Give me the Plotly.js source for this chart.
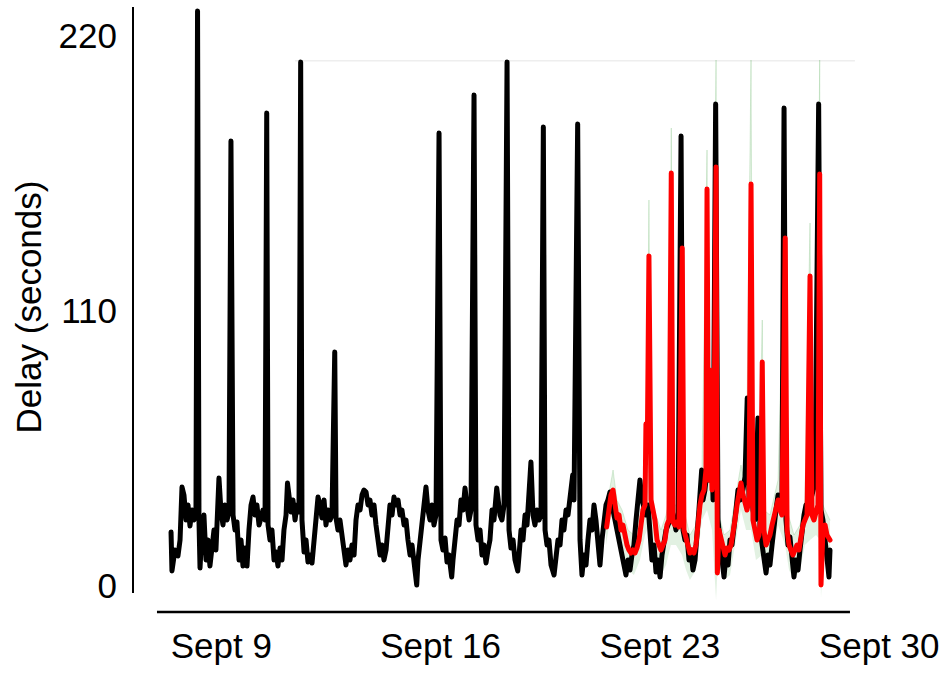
<!DOCTYPE html>
<html>
<head>
<meta charset="utf-8">
<script src="https://cdn.plot.ly/plotly-3.0.1.min.js"></script>
<style>
html,body{margin:0;padding:0;background:#fff;}
#chart{width:944px;height:673px;}
#chart .scatterlayer path.js-line{stroke-linejoin:round !important;stroke-linecap:round !important;}
</style>
</head>
<body>
<div id="chart"></div>
<script>
// Hours since Sept 7 00:00 and delay in seconds
const actualDelay = [[9.5,21.6],[10.2,6.0],[12.5,14.4],[14.8,12.0],[16.4,18.4],[17.9,39.6],[19.4,36.4],[21.0,26.4],[22.5,32.4],[24.0,24.0],[25.6,30.4],[27.1,26.4],[28.6,28.8],[29.8,230],[30.9,26.4],[31.7,7.2],[33.2,22.4],[34.7,28.4],[36.3,10.4],[37.8,18.4],[39.3,8.0],[40.9,16.4],[42.4,22.4],[43.9,14.4],[45.5,34.4],[46.2,43.2],[47.8,29.6],[49.3,24.4],[50.8,32.4],[52.4,26.4],[53.9,29.6],[55.4,178],[57.0,28.4],[58.5,22.4],[60.0,25.6],[61.6,10.4],[63.1,18.4],[64.6,8.0],[66.2,15.2],[67.7,8.0],[69.2,22.4],[70.8,32.4],[72.3,35.6],[73.8,28.4],[75.3,32.4],[76.9,24.4],[78.4,27.2],[79.9,30.4],[81.5,26.4],[82.8,189.2],[83.8,24.4],[85.3,18.4],[86.8,22.4],[88.4,10.4],[89.9,13.6],[91.4,8.0],[93.0,15.2],[94.5,10.4],[96.0,22.4],[97.6,28.4],[98.7,41.2],[99.9,34.4],[101.4,29.6],[102.9,34.4],[104.5,26.4],[106.0,32.4],[107.5,29.6],[108.8,209.6],[109.8,26.4],[111.4,13.6],[112.9,18.4],[114.4,9.6],[115.9,12.4],[117.5,9.2],[119.0,18.4],[120.5,26.4],[122.1,35.6],[123.6,32.4],[125.1,27.2],[126.7,34.4],[128.2,24.4],[129.7,30.4],[131.3,26.4],[132.8,28.4],[134.9,93.6],[135.9,27.2],[137.4,22.4],[138.9,26.4],[140.5,20.4],[142.0,16.4],[143.5,8.4],[145.1,14.4],[146.6,10.4],[148.1,16.4],[149.7,12.4],[151.2,26.4],[152.7,32.4],[154.3,30.4],[155.8,36.4],[157.3,38.4],[158.9,37.6],[160.4,32.4],[161.9,34.4],[163.4,28.4],[165.0,32.4],[166.5,24.4],[168.0,18.4],[169.6,12.4],[171.1,16.4],[172.6,10.4],[174.2,14.4],[175.7,22.4],[177.2,32.4],[178.8,28.4],[180.3,35.6],[181.8,32.4],[183.4,34.4],[184.9,28.4],[186.4,30.4],[188.0,24.4],[189.5,26.4],[191.0,18.4],[192.6,12.4],[194.1,16.4],[195.6,10.4],[197.7,0.4],[198.7,10.4],[200.2,18.4],[201.7,24.4],[203.3,30.4],[204.8,39.6],[206.3,30.4],[207.9,26.4],[209.4,32.4],[210.9,24.4],[212.5,28.4],[214.8,181.2],[216.3,18.4],[217.8,14.4],[219.4,19.2],[220.9,9.6],[222.4,12.4],[224.5,3.6],[225.5,10.4],[227.0,16.4],[228.6,26.4],[230.1,24.4],[231.6,34.4],[233.2,30.4],[234.7,39.2],[236.2,32.4],[237.8,26.4],[239.3,30.4],[241.6,196.4],[243.1,24.4],[244.7,18.4],[246.2,22.4],[247.7,12.4],[249.2,16.4],[250.8,9.2],[252.3,14.4],[253.8,18.4],[255.4,30.4],[256.9,26.4],[259.0,39.2],[260.0,32.4],[261.5,28.4],[263.0,26.4],[264.6,32.4],[266.9,209.6],[268.4,22.4],[269.9,15.2],[271.5,18.4],[273.0,10.4],[275.1,6.0],[276.1,12.4],[277.6,22.4],[279.1,18.4],[280.7,28.4],[282.2,24.4],[283.7,34.4],[285.2,49.6],[286.8,28.4],[288.3,24.4],[289.8,30.4],[291.4,26.4],[292.9,28.4],[294.7,183.6],[296.0,22.4],[297.5,16.4],[299.0,18.4],[300.6,8.4],[302.9,4.4],[304.4,10.4],[305.9,18.4],[307.5,16.4],[309.0,26.4],[310.5,22.4],[312.1,30.4],[313.6,28.4],[315.1,36.4],[317.2,44.4],[318.2,34.4],[321.0,184.8],[322.8,18.4],[324.3,4.4],[325.8,12.4],[327.4,8.4],[328.9,18.4],[330.4,26.4],[332.0,22.4],[333.5,32.4],[335.0,26.4],[336.6,16.4],[338.1,8.4],[339.6,18.4],[341.2,26.4],[342.7,32.4],[344.2,34.4],[345.8,37.6],[347.3,32.4],[348.8,28.4],[350.4,26.4],[351.9,22.4],[353.4,18.4],[355.0,13.6],[356.5,8.4],[358.0,4.4],[359.6,10.4],[361.1,6.4],[362.6,12.4],[364.1,16.4],[365.7,26.4],[367.2,34.4],[368.7,42.4],[370.3,34.4],[371.8,30.4],[373.3,28.4],[374.9,32.4],[376.4,20.4],[377.9,10.4],[379.5,16.4],[381.0,5.6],[382.5,10.4],[384.1,3.6],[385.6,12.4],[387.1,18.4],[388.7,22.4],[390.2,24.4],[391.7,26.4],[393.3,30.4],[394.8,26.4],[396.3,22.4],[397.9,26.4],[400.2,180],[401.7,22.4],[403.2,18.4],[404.7,20.4],[406.3,10.4],[407.8,14.4],[409.3,6.4],[410.9,10.4],[412.4,18.4],[413.9,30.4],[416.0,46.4],[417.0,34.4],[418.5,38.4],[420.1,46.4],[421.6,42.4],[423.1,74.4],[424.7,34.4],[426.7,192.8],[428.5,26.4],[430.0,16.4],[431.6,10.4],[433.1,3.6],[434.6,12.4],[436.2,8.4],[437.7,18.4],[439.2,16.4],[440.8,26.4],[442.3,30.4],[443.8,38.4],[445.4,34.4],[446.9,36.4],[449.2,43.6],[450.9,75.2],[452.3,34.4],[453.8,46.4],[455.3,30.4],[456.8,26.4],[459.1,67.2],[460.7,22.4],[462.2,16.4],[463.7,10.4],[465.3,5.2],[466.8,12.4],[468.3,8.4],[469.9,16.4],[471.4,26.4],[472.9,30.4],[474.5,36.4],[476.0,32.4],[477.5,34.4],[479.1,191.2],[480.6,26.4],[482.1,16.4],[483.6,19.6],[485.2,10.4],[486.7,3.6],[488.2,10.4],[489.8,6.4],[491.3,14.4],[492.8,22.4],[494.4,28.4],[495.9,32.4],[497.4,30.4],[499.0,34.4],[500.5,36.4],[502.8,41.2],[505.6,192.8],[507.4,30.4],[508.9,26.4],[510.5,18.4],[512.0,10.4],[513.5,3.6],[514.3,14.4]];

const forecastDelay = [[343.2,23.6],[345.0,30.4],[346.5,36.4],[348.1,38.4],[349.6,32.4],[351.1,27.2],[352.7,28.4],[354.2,22.4],[355.7,24.4],[357.3,18.4],[358.8,16.4],[360.3,14.4],[361.9,13.2],[363.4,14.4],[364.9,13.2],[366.4,15.2],[368.0,18.4],[369.5,24.4],[371.0,30.4],[372.6,32.4],[373.3,64.8],[374.5,64.4],[375.6,132],[377.2,34.4],[378.7,30.4],[380.2,26.4],[381.8,18.4],[383.3,16.4],[384.8,14.4],[386.4,16.4],[387.9,18.4],[389.4,24.4],[390.9,26.4],[392.7,165.2],[394.0,25.6],[395.6,24.4],[397.1,25.6],[398.6,23.6],[401.1,135.2],[402.4,22.4],[404.0,18.4],[405.5,16.4],[407.0,13.2],[408.6,14.4],[410.1,13.2],[411.6,16.4],[413.2,26.4],[414.7,32.4],[416.2,36.4],[417.8,38.4],[419.3,46.4],[420.1,158.8],[421.2,42.4],[422.4,86.4],[423.9,38.4],[425.4,54.4],[427.0,167.6],[428.0,5.2],[429.3,22.4],[430.8,18.4],[432.3,14.4],[433.9,12.4],[435.4,15.2],[436.9,14.4],[438.5,16.4],[440.0,20.4],[441.5,26.4],[443.1,32.4],[444.6,38.4],[446.1,41.2],[447.7,36.4],[449.2,32.4],[450.7,30.4],[452.3,34.4],[453.8,160.8],[455.3,26.4],[456.8,22.4],[458.4,18.4],[459.9,20.4],[461.1,26.4],[462.4,89.6],[463.7,22.4],[465.3,16.4],[466.8,18.4],[468.3,20.4],[469.9,24.4],[471.4,28.4],[472.9,32.4],[474.5,34.4],[476.0,30.4],[477.5,28.4],[480.0,139.2],[481.4,22.4],[482.9,16.4],[484.4,14.4],[485.9,12.4],[487.5,14.4],[489.0,16.4],[490.5,14.4],[492.1,20.4],[493.6,24.4],[495.1,26.4],[496.7,28.4],[499.0,124],[500.5,28.4],[502.0,26.4],[503.6,30.4],[505.1,32.4],[506.4,164.8],[507.4,0.4],[508.9,22.4],[510.5,24.4],[512.0,20.4],[514.3,18.4]];

const bandUpper = [[342.7,30.4],[345.8,40.4],[348.1,46.4],[351.1,34.4],[355.0,30.4],[359.6,22.4],[364.1,20.4],[368.7,28.4],[372.6,42.4],[374.1,70.4],[375.6,154.4],[377.2,38.4],[381.0,28.4],[384.8,22.4],[388.7,28.4],[390.9,34.4],[392.7,183.2],[394.0,32.4],[397.9,32.4],[401.1,154.4],[402.4,30.4],[407.0,20.4],[411.6,24.4],[416.2,46.4],[420.1,174.4],[421.6,50.4],[423.9,58.4],[427.0,210.4],[428.5,30.4],[433.1,20.4],[437.7,22.4],[441.5,34.4],[446.1,48.4],[450.0,38.4],[453.8,210.4],[455.3,34.4],[459.1,28.4],[462.4,106.4],[463.7,30.4],[468.3,28.4],[474.5,42.4],[480.0,154.4],[481.4,30.4],[486.7,20.4],[491.3,24.4],[495.1,34.4],[499.0,145.2],[500.5,36.4],[503.6,38.4],[506.4,210.4],[507.4,34.4],[510.5,30.4],[514.3,26.4]];

const bandLower = [[342.7,16.4],[345.8,26.4],[348.1,28.4],[351.1,20.4],[355.0,14.4],[359.6,6.4],[364.1,4.4],[368.7,10.4],[372.6,20.4],[375.6,24.4],[377.9,20.4],[381.0,14.4],[384.8,4.4],[388.7,8.4],[392.4,16.4],[396.3,16.4],[400.9,12.4],[404.0,6.4],[407.0,2.4],[411.6,6.4],[416.2,26.4],[420.1,30.4],[423.9,22.4],[427.0,-5.6],[428.5,10.4],[433.1,2.4],[437.7,4.4],[441.5,16.4],[446.1,30.4],[450.0,22.4],[453.8,22.4],[457.6,10.4],[462.2,12.4],[465.3,4.4],[469.9,12.4],[474.5,24.4],[479.9,16.4],[482.9,6.4],[486.7,2.4],[491.3,6.4],[495.1,16.4],[499.0,18.4],[503.6,20.4],[506.6,18.4],[507.4,-4.8],[508.9,10.4],[514.3,8.4]];

const tickDays = [9, 16, 23, 30];
const tickLabels = ['Sept 9', 'Sept 16', 'Sept 23', 'Sept 30'];
const yTicks = [0, 110, 220];
const topRuleLevel = 210.1;
const topRuleHours = [104.5, 533.4];

const BASE = Date.UTC(2019, 8, 7);
const toT = h => BASE + h * 3600000;
const xs = arr => arr.map(p => toT(p[0]));
const ys = arr => arr.map(p => p[1]);

const traces = [
  {x: xs(bandLower), y: ys(bandLower), type: 'scatter', mode: 'lines', line: {width: 0, color: 'rgba(0,0,0,0)'}, hoverinfo: 'skip'},
  {x: xs(bandUpper), y: ys(bandUpper), type: 'scatter', mode: 'lines', fill: 'tonexty', fillcolor: 'rgba(60,160,60,0.15)', line: {width: 0.6, color: 'rgba(60,160,60,0.3)'}, hoverinfo: 'skip'},
  {x: xs(actualDelay), y: ys(actualDelay), type: 'scatter', mode: 'lines', line: {color: '#000000', width: 5}},
  {x: xs(forecastDelay), y: ys(forecastDelay), type: 'scatter', mode: 'lines', line: {color: '#ff0000', width: 5}}
];

const layout = {
  width: 944, height: 673,
  margin: {l: 133, r: 64, t: 8, b: 67},
  paper_bgcolor: '#ffffff', plot_bgcolor: '#ffffff',
  showlegend: false,
  font: {family: 'Liberation Sans, Arial, Helvetica, sans-serif', size: 35, color: '#000000'},
  xaxis: {
    type: 'date',
    range: [toT(-19.64), toT(552.6)],
    showgrid: false, zeroline: false, showline: false,
    tickmode: 'array',
    tickvals: tickDays.map(d => Date.UTC(2019, 8, d)),
    ticktext: tickLabels,
    ticks: 'outside', ticklen: 9, tickcolor: 'rgba(0,0,0,0)',
    tickfont: {size: 35}
  },
  yaxis: {
    range: [-8, 231.2],
    showgrid: false, zeroline: false, showline: false,
    tickmode: 'array', tickvals: yTicks,
    ticks: 'outside', ticklen: 8, tickcolor: 'rgba(0,0,0,0)',
    tickfont: {size: 35},
    title: {text: 'Delay (seconds)', font: {size: 35}, standoff: 6}
  },
  shapes: [
    {type: 'line', xref: 'paper', yref: 'paper', x0: 0, x1: 0, y0: 0.0217, y1: 1.0017, line: {color: '#000', width: 2}},
    {type: 'line', xref: 'paper', yref: 'paper', x0: 0.0321, x1: 0.9598, y0: -0.01, y1: -0.01, line: {color: '#000', width: 2.5}},
    {type: 'line', xref: 'x', yref: 'y', x0: toT(topRuleHours[0]), x1: toT(topRuleHours[1]), y0: topRuleLevel, y1: topRuleLevel, line: {color: '#eeeeee', width: 1.5}, layer: 'below'}
  ]
};

Plotly.newPlot('chart', traces, layout, {staticPlot: true, displayModeBar: false});
</script>
</body>
</html>
